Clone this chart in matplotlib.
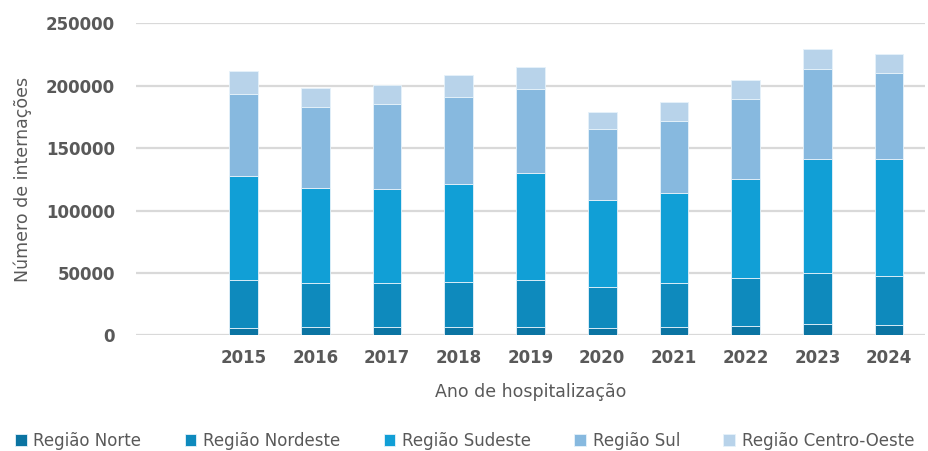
import numpy as np
import matplotlib.pyplot as plt

years = ['2015', '2016', '2017', '2018', '2019', '2020', '2021', '2022', '2023', '2024']
regioes = ['Região Norte', 'Região Nordeste', 'Região Sudeste', 'Região Sul', 'Região Centro-Oeste']

norte = [6100, 6900, 6900, 6900, 6900, 6100, 6900, 7700, 9300, 8300]
nordeste = [38200, 34800, 34800, 35800, 37400, 32400, 35000, 38500, 40700, 39200]
sudeste = [83700, 76400, 75600, 78600, 86100, 70200, 71900, 79400, 91400, 93600]
sul = [65500, 64700, 67900, 69800, 67100, 56700, 58300, 63900, 72100, 69000]
centro_oeste = [18200, 15500, 15500, 17400, 17600, 13900, 15000, 15400, 16300, 15700]

cores = ['#0b74a2', '#0e8abd', '#119fd6', '#87b9df', '#b8d3ea']
cinza = '#595959'

fig = plt.figure(figsize=(9.29, 4.51), dpi=100)
ax = fig.add_axes([0.1464, 0.2561, 0.8493, 0.6918])

# primeira categoria fica vazia, como no original
x = np.arange(1, len(years) + 1)
base = np.zeros(len(years))
for nome, serie, cor in zip(regioes, [norte, nordeste, sudeste, sul, centro_oeste], cores):
    ax.bar(x, serie, width=0.4, bottom=base, color=cor, label=nome,
           edgecolor='#e6f2fa', linewidth=0.6, zorder=3)
    base += np.array(serie)

ax.set_xlim(-0.5, len(years) + 0.5)
ax.set_ylim(0, 250000)
ax.set_yticks(np.arange(0, 250001, 50000))
ax.set_yticklabels([str(v) for v in range(0, 250001, 50000)])
ax.set_xticks(x)
ax.set_xticklabels(years)

ax.yaxis.grid(True, color='#d9d9d9', linewidth=1.6, zorder=0)
ax.set_axisbelow(True)
for s in ax.spines.values():
    s.set_visible(False)
ax.tick_params(length=0, labelsize=12, labelcolor=cinza)
ax.tick_params(axis='y', pad=15)
ax.tick_params(axis='x', pad=10)
for lab in ax.get_xticklabels() + ax.get_yticklabels():
    lab.set_fontweight('bold')

ax.set_xlabel('Ano de hospitalização', fontsize=12.5, color=cinza, labelpad=11)
ax.set_ylabel('Número de internações', fontsize=12.5, color=cinza)
ax.yaxis.set_label_coords(-0.132, 0.5)

fig.legend(loc='center', bbox_to_anchor=(0.5, 0.022), ncol=5, frameon=False,
           fontsize=12, labelcolor=cinza, handlelength=0.7, handleheight=0.7,
           handletextpad=0.4, columnspacing=2.6)

fig.savefig('out.png', dpi=100)
